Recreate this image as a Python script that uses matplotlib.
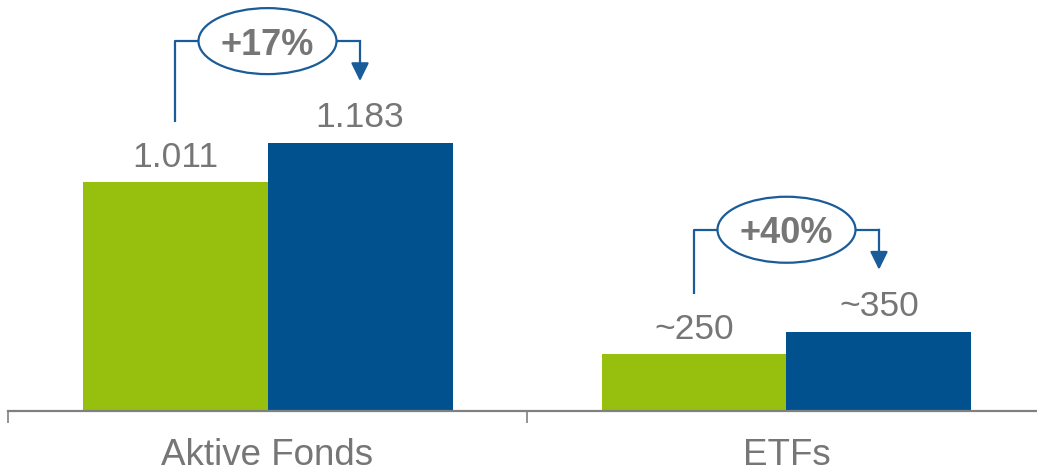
import matplotlib.pyplot as plt
from matplotlib.patches import Ellipse

plt.rcParams["font.family"] = ["Liberation Sans", "DejaVu Sans"]

categories = ["Aktive Fonds", "ETFs"]
values_old = [1011, 250]
values_new = [1183, 350]
labels_old = ["1.011", "~250"]
labels_new = ["1.183", "~350"]
growth = ["+17%", "+40%"]

GREEN = "#97BF0D"
BLUE = "#00518E"
LINE_BLUE = "#1A5C9A"
GRAY = "#767676"
AXIS_GRAY = "#808080"

W, H = 1037, 476
fig = plt.figure(figsize=(W / 100, H / 100), dpi=100)
ax = fig.add_axes([8 / W, 65 / H, 1029 / W, 411 / H])

px_x = 519.0            # pixels per category
px_y = 411 / 1815.0     # pixels per value unit

bw = 185 / px_x
x = list(range(len(categories)))
ax.bar([i - bw / 2 for i in x], values_old, width=bw, color=GREEN, zorder=2)
ax.bar([i + bw / 2 for i in x], values_new, width=bw, color=BLUE, zorder=2)

fs = 25.5
for i in x:
    ax.text(i - bw / 2, values_old[i] + 15 / px_y, labels_old[i], ha="center",
            va="baseline", fontsize=fs, color=GRAY)
    ax.text(i + bw / 2, values_new[i] + 16 / px_y, labels_new[i], ha="center",
            va="baseline", fontsize=fs, color=GRAY)

    # growth bracket (offsets in pixels)
    top = max(values_old[i], values_new[i])
    yb = top + 102 / px_y
    xl = i - bw / 2
    xr = i + bw / 2
    y_start = values_old[i] + 60 / px_y
    ell_w = 138 / px_x
    ell_h = 66 / px_y
    ax.plot([xl, xl, i - ell_w / 2], [y_start, yb, yb], color=LINE_BLUE,
            lw=1.6, solid_capstyle="butt", zorder=3, clip_on=False)
    ax.annotate("", xy=(xr, top + 62 / px_y), xytext=(xr, yb),
                arrowprops=dict(arrowstyle="-|>,head_length=0.55,head_width=0.27",
                                mutation_scale=20, color=LINE_BLUE, lw=1.6,
                                shrinkA=0, shrinkB=0),
                zorder=3, annotation_clip=False)
    ax.plot([i + ell_w / 2, xr], [yb, yb], color=LINE_BLUE, lw=1.6,
            solid_capstyle="projecting", zorder=3, clip_on=False)
    ax.add_patch(Ellipse((i, yb), ell_w, ell_h, facecolor="white",
                         edgecolor=LINE_BLUE, lw=1.6, zorder=4, clip_on=False))
    ax.text(i, yb, growth[i], ha="center", va="center_baseline", fontsize=26,
            fontweight="bold", color=GRAY, zorder=5)

for s in ["left", "top", "right"]:
    ax.spines[s].set_visible(False)
ax.spines["bottom"].set_color(AXIS_GRAY)
ax.spines["bottom"].set_linewidth(1.6)
ax.set_yticks([])
ax.set_xticks(x)
ax.set_xticklabels(categories, fontsize=26.5, color=GRAY)
ax.tick_params(axis="x", which="major", length=0, pad=19.5)
ax.set_xticks([-0.5, 0.5, 1.5], minor=True)
ax.tick_params(axis="x", which="minor", length=8.5, width=1.2, color=AXIS_GRAY,
               direction="out")
ax.set_xlim(-0.5, -0.5 + 1029 / px_x)
ax.set_ylim(0, 1815)

fig.savefig("out.png", dpi=100)
